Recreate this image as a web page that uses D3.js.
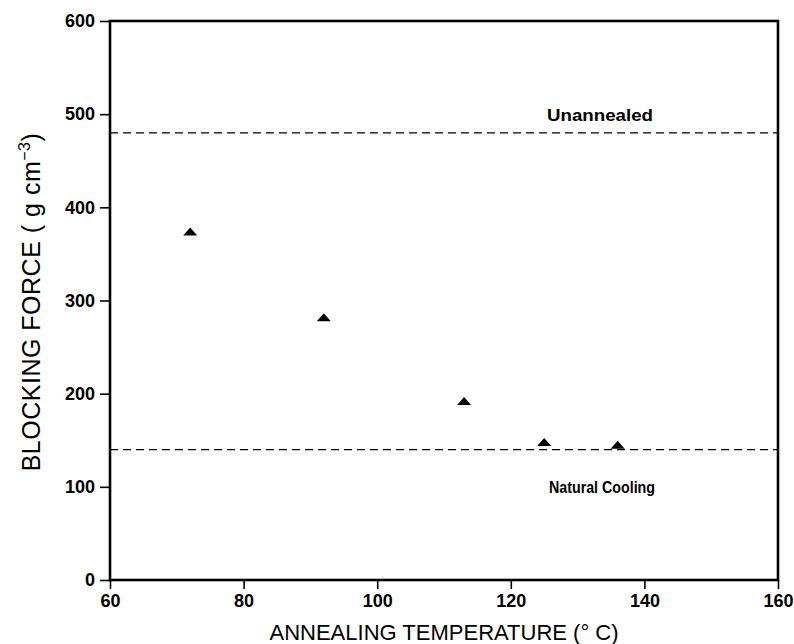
<!DOCTYPE html>
<html><head><meta charset="utf-8">
<script src="https://cdn.jsdelivr.net/npm/d3@7"></script>
<style>body{margin:0;background:#fff}</style>
</head><body>
<svg id="c" width="794" height="644"></svg>
<script>
const temps = [72, 92, 113, 125, 136];
const forces = [373, 281, 191, 147, 144];
const xTicks = [60, 80, 100, 120, 140, 160];
const yTicks = [0, 100, 200, 300, 400, 500, 600];
const refLines = [{name: "Unannealed", value: 480}, {name: "Natural Cooling", value: 140}];

const svg = d3.select("#c");
const L = 110, R = 778, T = 21, B = 580;
const x = d3.scaleLinear().domain([60, 160]).range([L, R]);
const y = d3.scaleLinear().domain([0, 600]).range([B, T]);
const font = "Liberation Sans, Arial, sans-serif";

// frame
svg.append("rect").attr("x", L).attr("y", T).attr("width", R - L).attr("height", B - T)
  .attr("fill", "none").attr("stroke", "#000").attr("stroke-width", 2.6);

const xa = svg.append("g").attr("transform", `translate(0,${B})`)
  .call(d3.axisBottom(x).tickValues(xTicks).tickSize(9).tickPadding(5).tickFormat(d3.format("d")));
const ya = svg.append("g").attr("transform", `translate(${L},0)`)
  .call(d3.axisLeft(y).tickValues(yTicks).tickSize(10).tickPadding(5).tickFormat(d3.format("d")));
[xa, ya].forEach(a => {
  a.select(".domain").remove();
  a.selectAll(".tick line").attr("stroke", "#000").attr("stroke-width", 1.6);
  a.selectAll("text").attr("font-family", font).attr("font-size", 18).attr("font-weight", "bold").attr("fill", "#000");
});

// reference lines
svg.selectAll(".ref").data(refLines).enter().append("line")
  .attr("x1", L).attr("x2", R).attr("y1", d => y(d.value)).attr("y2", d => y(d.value))
  .attr("stroke", "#000").attr("stroke-width", 1.3).attr("stroke-dasharray", "8,5");

svg.append("text").attr("x", 547).attr("y", 121).text("Unannealed")
  .attr("font-family", font).attr("font-size", 17).attr("font-weight", "bold")
  .attr("textLength", 106).attr("lengthAdjust", "spacingAndGlyphs");
svg.append("text").attr("x", 549).attr("y", 493).text("Natural Cooling")
  .attr("font-family", font).attr("font-size", 17).attr("font-weight", "bold")
  .attr("textLength", 106).attr("lengthAdjust", "spacingAndGlyphs");

// points
const tri = "M0,-5L7,3L-7,3Z";
svg.selectAll(".pt").data(temps).enter().append("path")
  .attr("d", tri).attr("fill", "#000")
  .attr("transform", (d, i) => `translate(${x(d)},${y(forces[i])})`);

// axis titles
svg.append("text").attr("x", 444).attr("y", 640).attr("text-anchor", "middle")
  .attr("font-family", font).attr("font-size", 22).attr("fill", "#000")
  .text("ANNEALING TEMPERATURE (° C)");
const yt = svg.append("text").attr("transform", `translate(40,302) rotate(-90)`)
  .attr("text-anchor", "middle").attr("font-family", font).attr("font-size", 25)
  .attr("letter-spacing", 0.5).attr("fill", "#000");
yt.append("tspan").text("BLOCKING FORCE ( g cm");
yt.append("tspan").text("−3").attr("font-size", 16).attr("dy", -10);
yt.append("tspan").text(")").attr("dy", 10);
</script>
</body></html>
